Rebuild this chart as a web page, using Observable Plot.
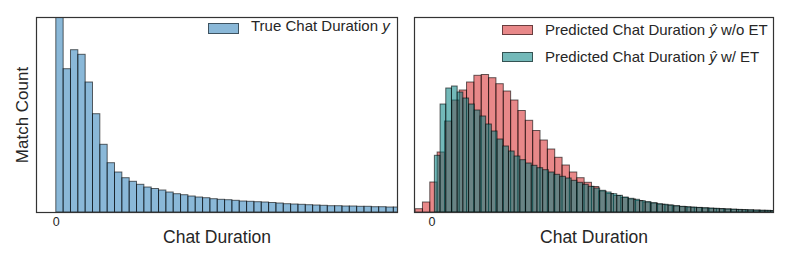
<!DOCTYPE html>
<html><head><meta charset="utf-8">
<script src="https://cdn.jsdelivr.net/npm/d3@7"></script>
<script src="https://cdn.jsdelivr.net/npm/@observablehq/plot@0.6"></script>
<style>
body{margin:0;background:#fff;}
#wrap{position:relative;width:789px;height:266px;font-family:"Liberation Sans",Arial,sans-serif;color:#262626;overflow:hidden;}
#wrap svg{position:absolute;top:0;}
.sw{position:absolute;box-sizing:border-box;border:1px solid rgba(0,0,0,0.55);}
.lt{position:absolute;font-size:15px;line-height:17px;white-space:nowrap;}
</style></head><body><div id="wrap"></div>
<script>
// Histogram counts (arbitrary count units)
const trueCounts = [230, 143.3, 162.3, 157.7, 130, 98.3, 67.7, 49.3, 40, 34.3,
  30.7, 27.7, 25, 23.5, 22, 20, 18.3, 17.3, 16, 15,
  14.3, 13.3, 12.7, 12.3, 11.7, 11, 10.7, 10.3, 10, 9.5,
  9, 8.3, 8, 7.7, 7.3, 7, 6.7, 6.3, 6.3, 6,
  6, 5.7, 5.7, 5.3, 5.3, 5, 5];
const trueStart = 0, trueWidth = 10;

const woCounts = [3.3, 10, 30, 60, 91, 112, 122, 130, 136.7, 137.5,
  134.3, 128.3, 121, 112, 101.5, 91.7, 81.5, 72, 63, 54.7,
  47, 40, 34.3, 29.7, 25.5, 21, 18.5, 16.5, 14.5, 13,
  11.5, 10, 9, 7.8, 7, 6.1, 5.4, 4.8, 4.4, 4,
  3.6, 3.3, 3, 2.6, 2.3, 2, 1.8, 1.6, 1.4];
const woStart = -22.5, woWidth = 10.03;

const wCounts = [56.7, 108, 124, 126, 120, 114, 108, 102, 96, 88,
  81, 73, 66, 61, 56, 52.3, 49, 46.7, 44.3, 42.3,
  40, 37.7, 35.7, 34, 31.7, 29.7, 27.7, 25.7, 24, 21.7,
  20, 18.3, 16.7, 15, 13.7, 12.7, 11.3, 10.3, 9.3, 8.3,
  7.7, 7, 6.3, 5.7, 5.3, 4.9, 4.6, 4.3, 4.0, 3.7,
  3.4, 3.1, 2.9, 2.6, 2.4, 2.2, 2.0, 1.8, 1.7, 1.5];
const wStart = 3.8, wWidth = 7.78;

const xTicks = [0];
const leftDomain = [-27, 465];
const rightDomain = [-24, 466];
const yMax = 195;
const xLabel = "Chat Duration";
const yLabel = "Match Count";

function bins(counts, start, width) {
  return counts.map((c, i) => ({x1: start + i * width, x2: start + (i + 1) * width, y: c}));
}

const font = '"Liberation Sans", Arial, sans-serif';
const common = {
  height: 266, marginTop: 17, marginBottom: 54,
  style: {fontFamily: font, fontSize: "12.5px", color: "#262626", background: "transparent"},
  y: {domain: [0, yMax], axis: null}
};
const barStyle = {stroke: "#000", strokeOpacity: 0.6, strokeWidth: 1, clip: true};

const left = Plot.plot({
  ...common, width: 405, marginLeft: 36, marginRight: 8,
  x: {domain: leftDomain, ticks: xTicks, tickSize: 0, tickPadding: 5, label: null},
  marks: [
    Plot.rect(bins(trueCounts, trueStart, trueWidth), {x1: "x1", x2: "x2", y1: 0, y2: "y", fill: "#1f77b4", fillOpacity: 0.52, ...barStyle}),
    Plot.frame({stroke: "#333", strokeWidth: 1.2}),
    Plot.text([xLabel], {text: d => d, frameAnchor: "bottom", dy: 30, fontSize: 17.5, fill: "#262626"}),
    Plot.text([yLabel], {text: d => d, frameAnchor: "left", textAnchor: "middle", rotate: -90, dx: -14, fontSize: 17, fill: "#262626"})
  ]
});

const right = Plot.plot({
  ...common, width: 384, marginLeft: 9, marginRight: 16,
  x: {domain: rightDomain, ticks: xTicks, tickSize: 0, tickPadding: 5, label: null},
  marks: [
    Plot.rect(bins(woCounts, woStart, woWidth), {x1: "x1", x2: "x2", y1: 0, y2: "y", fill: "#d62728", fillOpacity: 0.55, ...barStyle}),
    Plot.rect(bins(wCounts, wStart, wWidth), {x1: "x1", x2: "x2", y1: 0, y2: "y", fill: "#008080", fillOpacity: 0.55, ...barStyle}),
    Plot.frame({stroke: "#333", strokeWidth: 1.2}),
    Plot.text([xLabel], {text: d => d, frameAnchor: "bottom", dy: 30, fontSize: 17.5, fill: "#262626"})
  ]
});

const wrap = document.getElementById("wrap");
left.style.left = "0px";
right.style.left = "405px";
wrap.appendChild(left);
wrap.appendChild(right);

// legends
const legends = [
  {sw: [208, 23, 31, 11], color: "rgba(31,119,180,0.52)", text: 'True Chat Duration <i>y</i>', tx: 251, ty: 17},
  {sw: [502, 25, 31, 10], color: "rgba(214,39,40,0.55)", text: 'Predicted Chat Duration <i>ŷ</i> w/o ET', tx: 545, ty: 21},
  {sw: [502, 52, 31, 10], color: "rgba(0,128,128,0.55)", text: 'Predicted Chat Duration <i>ŷ</i> w/ ET', tx: 545, ty: 48}
];
for (const l of legends) {
  const s = document.createElement("div");
  s.className = "sw";
  Object.assign(s.style, {left: l.sw[0] + "px", top: l.sw[1] + "px", width: l.sw[2] + "px", height: l.sw[3] + "px", background: l.color});
  wrap.appendChild(s);
  const t = document.createElement("div");
  t.className = "lt";
  t.innerHTML = l.text;
  Object.assign(t.style, {left: l.tx + "px", top: l.ty + "px"});
  wrap.appendChild(t);
}
</script></body></html>
